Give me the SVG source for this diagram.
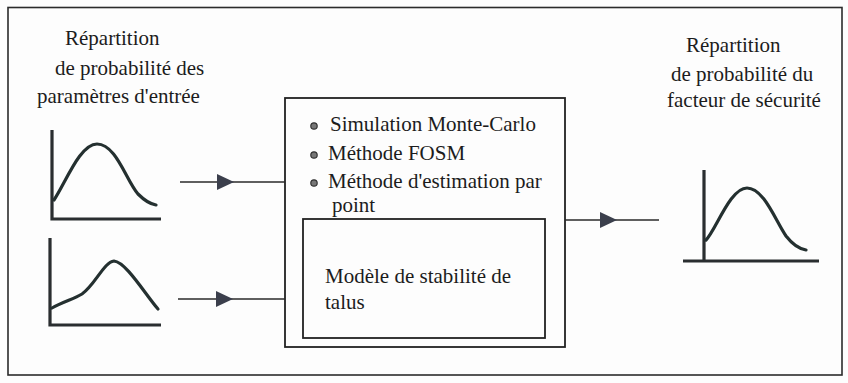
<svg xmlns="http://www.w3.org/2000/svg" width="848" height="383" viewBox="0 0 848 383">
  <style>
    .frame { fill: none; stroke: #2b2b2b; stroke-width: 1.6; }
    .box { fill: none; stroke: #222; stroke-width: 1.8; }
    .axis { fill: none; stroke: #2a2e30; stroke-width: 3.2; stroke-linecap: butt; }
    .curve { fill: none; stroke: #243030; stroke-width: 3.2; stroke-linecap: round; stroke-linejoin: round; }
    .conn { fill: none; stroke: #2a2a2a; stroke-width: 1.6; }
    .head { fill: #3b3f4c; }
    .lbl { font-family: "Liberation Serif", "Times New Roman", serif; font-size: 21px; fill: #1c1c1c; }
    .dot { fill: #777; stroke: #333; stroke-width: 1.2; }
  </style>
  <defs>
    <path id="tri" d="M0,-8 L17,0 L0,8 Z"/>
  </defs>
  <rect x="0" y="0" width="848" height="383" fill="#fdfdfd"/>
  <rect class="frame" x="8" y="7.5" width="834" height="367.5"/>

  <g id="input-label">
    <text class="lbl" x="65" y="45">Répartition</text>
    <text class="lbl" x="55" y="75">de probabilité des</text>
    <text class="lbl" x="37" y="103">paramètres d'entrée</text>
  </g>

  <g id="input-dist-1">
    <path class="axis" d="M52,130 V219 H161"/>
    <path class="curve" d="M54,200 C66,182 80,144 97,144 C116,144 126,180 138,194 C145,201 150,204 156,205"/>
  </g>

  <g id="input-dist-2">
    <path class="axis" d="M50,238 V325 H161"/>
    <path class="curve" d="M52,308 C62,302 74,299 82,294 C95,285 104,262 114,261 C126,262 145,294 158,309"/>
  </g>

  <g id="method-box">
    <rect class="box" x="285" y="98" width="280" height="249"/>
    <circle class="dot" cx="314" cy="126" r="3.2"/>
    <circle class="dot" cx="314" cy="155" r="3.2"/>
    <circle class="dot" cx="314" cy="183" r="3.2"/>
    <text class="lbl" x="330" y="131">Simulation Monte-Carlo</text>
    <text class="lbl" x="328" y="160">Méthode FOSM</text>
    <text class="lbl" x="328" y="188">Méthode d'estimation par</text>
    <text class="lbl" x="332" y="212">point</text>
  </g>

  <g id="stability-model">
    <rect class="box" x="303" y="219" width="242" height="119"/>
    <text class="lbl" x="325" y="283">Modèle de stabilité de</text>
    <text class="lbl" x="325" y="309">talus</text>
  </g>

  <g id="output-label">
    <text class="lbl" x="686" y="52">Répartition</text>
    <text class="lbl" x="671" y="81">de probabilité du</text>
    <text class="lbl" x="667" y="107">facteur de sécurité</text>
  </g>

  <g id="output-dist">
    <path class="axis" d="M704,170 V261 M683,261 H819"/>
    <path class="curve" d="M706,240 C716,230 730,188 747,188 C764,188 776,222 786,236 C793,245 800,249 806,250"/>
  </g>

  <g id="connectors">
    <line class="conn" x1="180" y1="182" x2="285" y2="182"/>
    <use href="#tri" class="head" x="217" y="182"/>
    <line class="conn" x1="178" y1="299" x2="285" y2="299"/>
    <use href="#tri" class="head" x="216" y="299"/>
    <line class="conn" x1="565" y1="220" x2="659" y2="220"/>
    <use href="#tri" class="head" x="600" y="220"/>
  </g>
</svg>
